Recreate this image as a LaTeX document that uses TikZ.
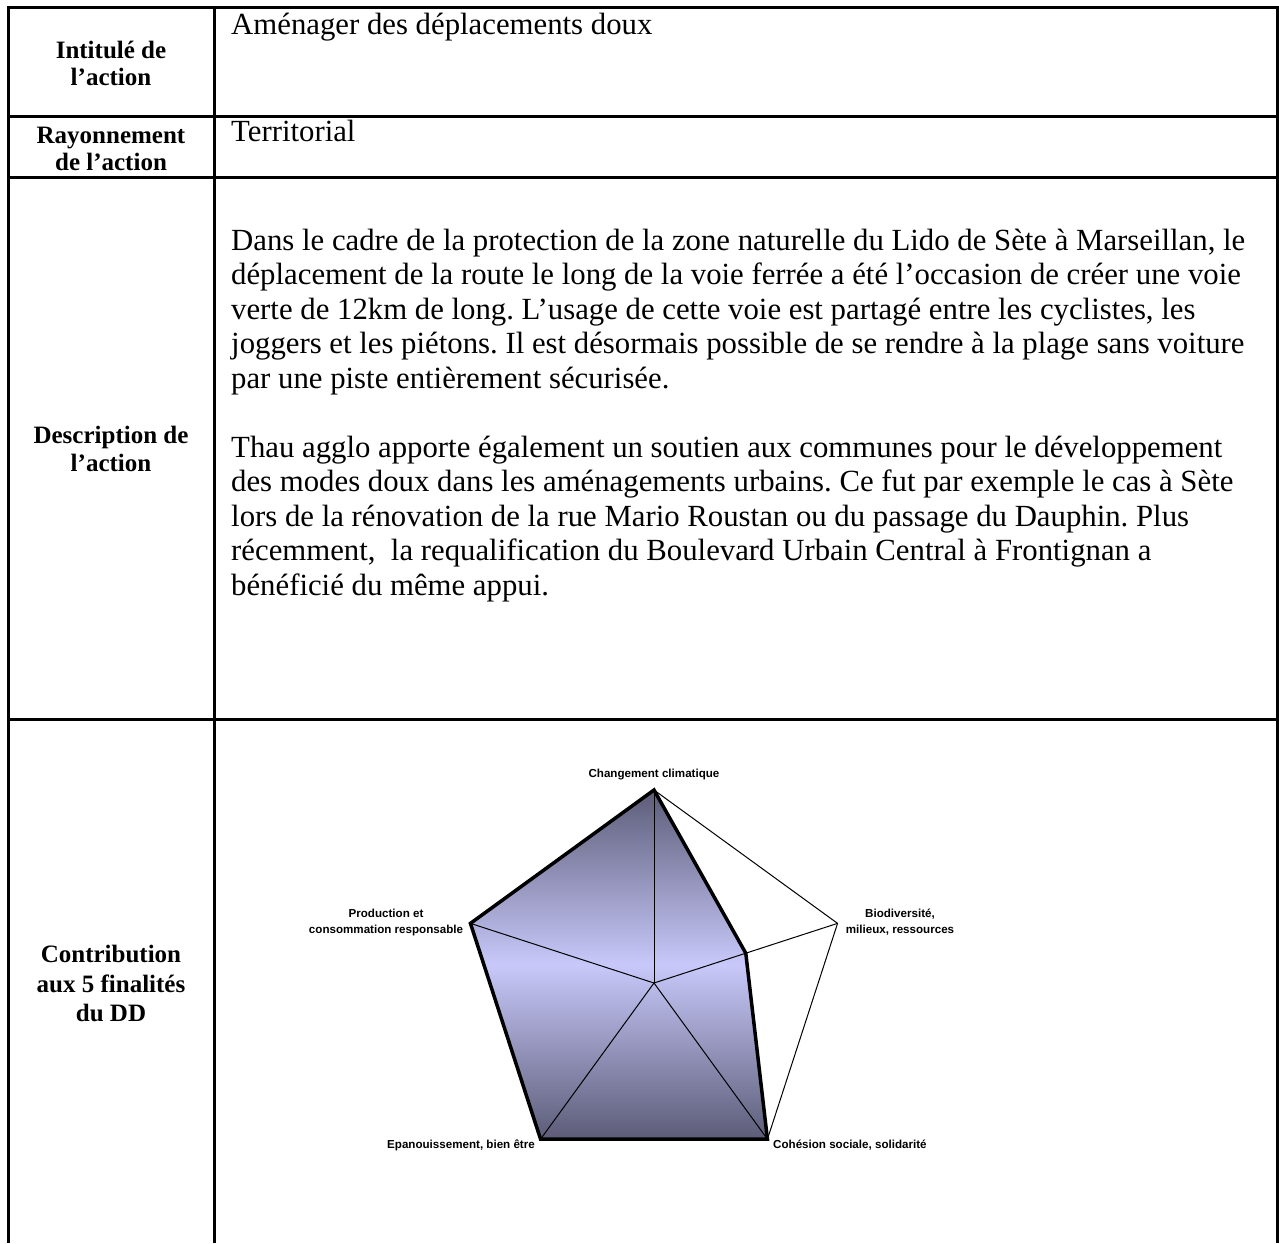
\documentclass[tikz,border=0pt]{standalone}
\usepackage{fontspec}
\setmainfont{Liberation Serif}
\newfontfamily\chartfont{Liberation Sans}
\definecolor{raddark}{RGB}{92,92,120}
\definecolor{radlight}{RGB}{200,200,250}
\newlength\measurew
\frenchspacing
\begin{document}
\settowidth\measurew{\fontsize{10pt}{12pt}\selectfont Dans le cadre de la protection de la zone naturelle du Lido de Sète à Marseillan, le}%
\pgfmathsetmacro\bodysize{10*1014/\measurew}%
\begin{tikzpicture}[x=1pt,y=-1pt,
  tableline/.style={line width=3pt},
  lbl/.style={anchor=base, inner sep=0pt, font=\bfseries\fontsize{25}{30}\selectfont},
  chartlbl/.style={inner sep=0pt, font=\chartfont\bfseries\fontsize{11.6}{16}\selectfont},
  spoke/.style={line width=1pt},
  dataline/.style={line width=3.5pt, line join=miter},
  body/.style={anchor=base west, inner sep=0pt, font=\fontsize{\bodysize}{\bodysize}\selectfont}]
\useasboundingbox (0,0) rectangle (1279,1243);
\fill[white] (0,0) rectangle (1279,1243);
% table
\draw[tableline] (8,1243) -- (8,7) -- (1277,7) -- (1277,1243);
\draw[tableline] (214,7) -- (214,1243);
\draw[tableline] (8,116) -- (1277,116);
\draw[tableline] (8,177) -- (1277,177);
\draw[tableline] (8,719) -- (1277,719);
% left labels
\node[lbl] (int1) at (111,58) {Intitulé de};
\node[lbl] (int2) at (111,85) {l’action};
\node[lbl] (ray1) at (111,143) {Rayonnement};
\node[lbl] (ray2) at (111,170) {de l’action};
\node[lbl] (des1) at (111,443) {Description de};
\node[lbl] (des2) at (111,471) {l’action};
\node[lbl] (con1) at (111,962) {Contribution};
\node[lbl] (con2) at (111,992) {aux 5 finalités};
\node[lbl] (con3) at (111,1021) {du DD};
% right column
\node[body] (titre) at (231,34) {Aménager des déplacements doux};
\node[body] (terr) at (231,141) {Territorial};
\node[body] (d1) at (231,250) {Dans le cadre de la protection de la zone naturelle du Lido de Sète à Marseillan, le};
\node[body] (d2) at (231,284.5) {déplacement de la route le long de la voie ferrée a été l’occasion de créer une voie};
\node[body] (d3) at (231,319) {verte de 12km de long. L’usage de cette voie est partagé entre les cyclistes, les};
\node[body] (d4) at (231,353.5) {joggers et les piétons. Il est désormais possible de se rendre à la plage sans voiture};
\node[body] (d5) at (231,388) {par une piste entièrement sécurisée.};
\node[body] (d7) at (231,457) {Thau agglo apporte également un soutien aux communes pour le développement};
\node[body] (d8) at (231,491.5) {des modes doux dans les aménagements urbains. Ce fut par exemple le cas à Sète};
\node[body] (d9) at (231,526) {lors de la rénovation de la rue Mario Roustan ou du passage du Dauphin. Plus};
\node[body] (d10) at (231,560.5) {récemment,\ \ la requalification du Boulevard Urbain Central à Frontignan a};
\node[body] (d11) at (231,595) {bénéficié du même appui.};
% radar chart
\coordinate (c) at (654,983);
\coordinate (v0) at (654,790);
\coordinate (v1) at (837.55,923.36);
\coordinate (v2) at (767.44,1139.14);
\coordinate (v3) at (540.56,1139.14);
\coordinate (v4) at (470.45,923.36);
\coordinate (p1) at (745.78,953.18);
\shade[top color=raddark, bottom color=raddark, middle color=radlight]
  (v0) -- (p1) -- (v2) -- (v3) -- (v4) -- cycle;
\draw[spoke] (c) -- (v0);
\draw[spoke] (c) -- (v1);
\draw[spoke] (c) -- (v2);
\draw[spoke] (c) -- (v3);
\draw[spoke] (c) -- (v4);
\draw[spoke] (v0) -- (v1) -- (v2) -- (v3) -- (v4) -- cycle;
\draw[dataline] (v0) -- (p1) -- (v2) -- (v3) -- (v4) -- cycle;
% chart labels
\node[chartlbl, anchor=base] (lcc) at (654,777) {Changement climatique};
\node[chartlbl, anchor=base] (lbio1) at (900,917) {Biodiversité,};
\node[chartlbl, anchor=base] (lbio2) at (900,933) {milieux, ressources};
\node[chartlbl, anchor=base] (lpro1) at (386,917) {Production et};
\node[chartlbl, anchor=base] (lpro2) at (386,933) {consommation responsable};
\node[chartlbl, anchor=base east] (lepa) at (535,1148) {Epanouissement, bien être};
\node[chartlbl, anchor=base west] (lcoh) at (773,1148) {Cohésion sociale, solidarité};
\end{tikzpicture}
\end{document}
